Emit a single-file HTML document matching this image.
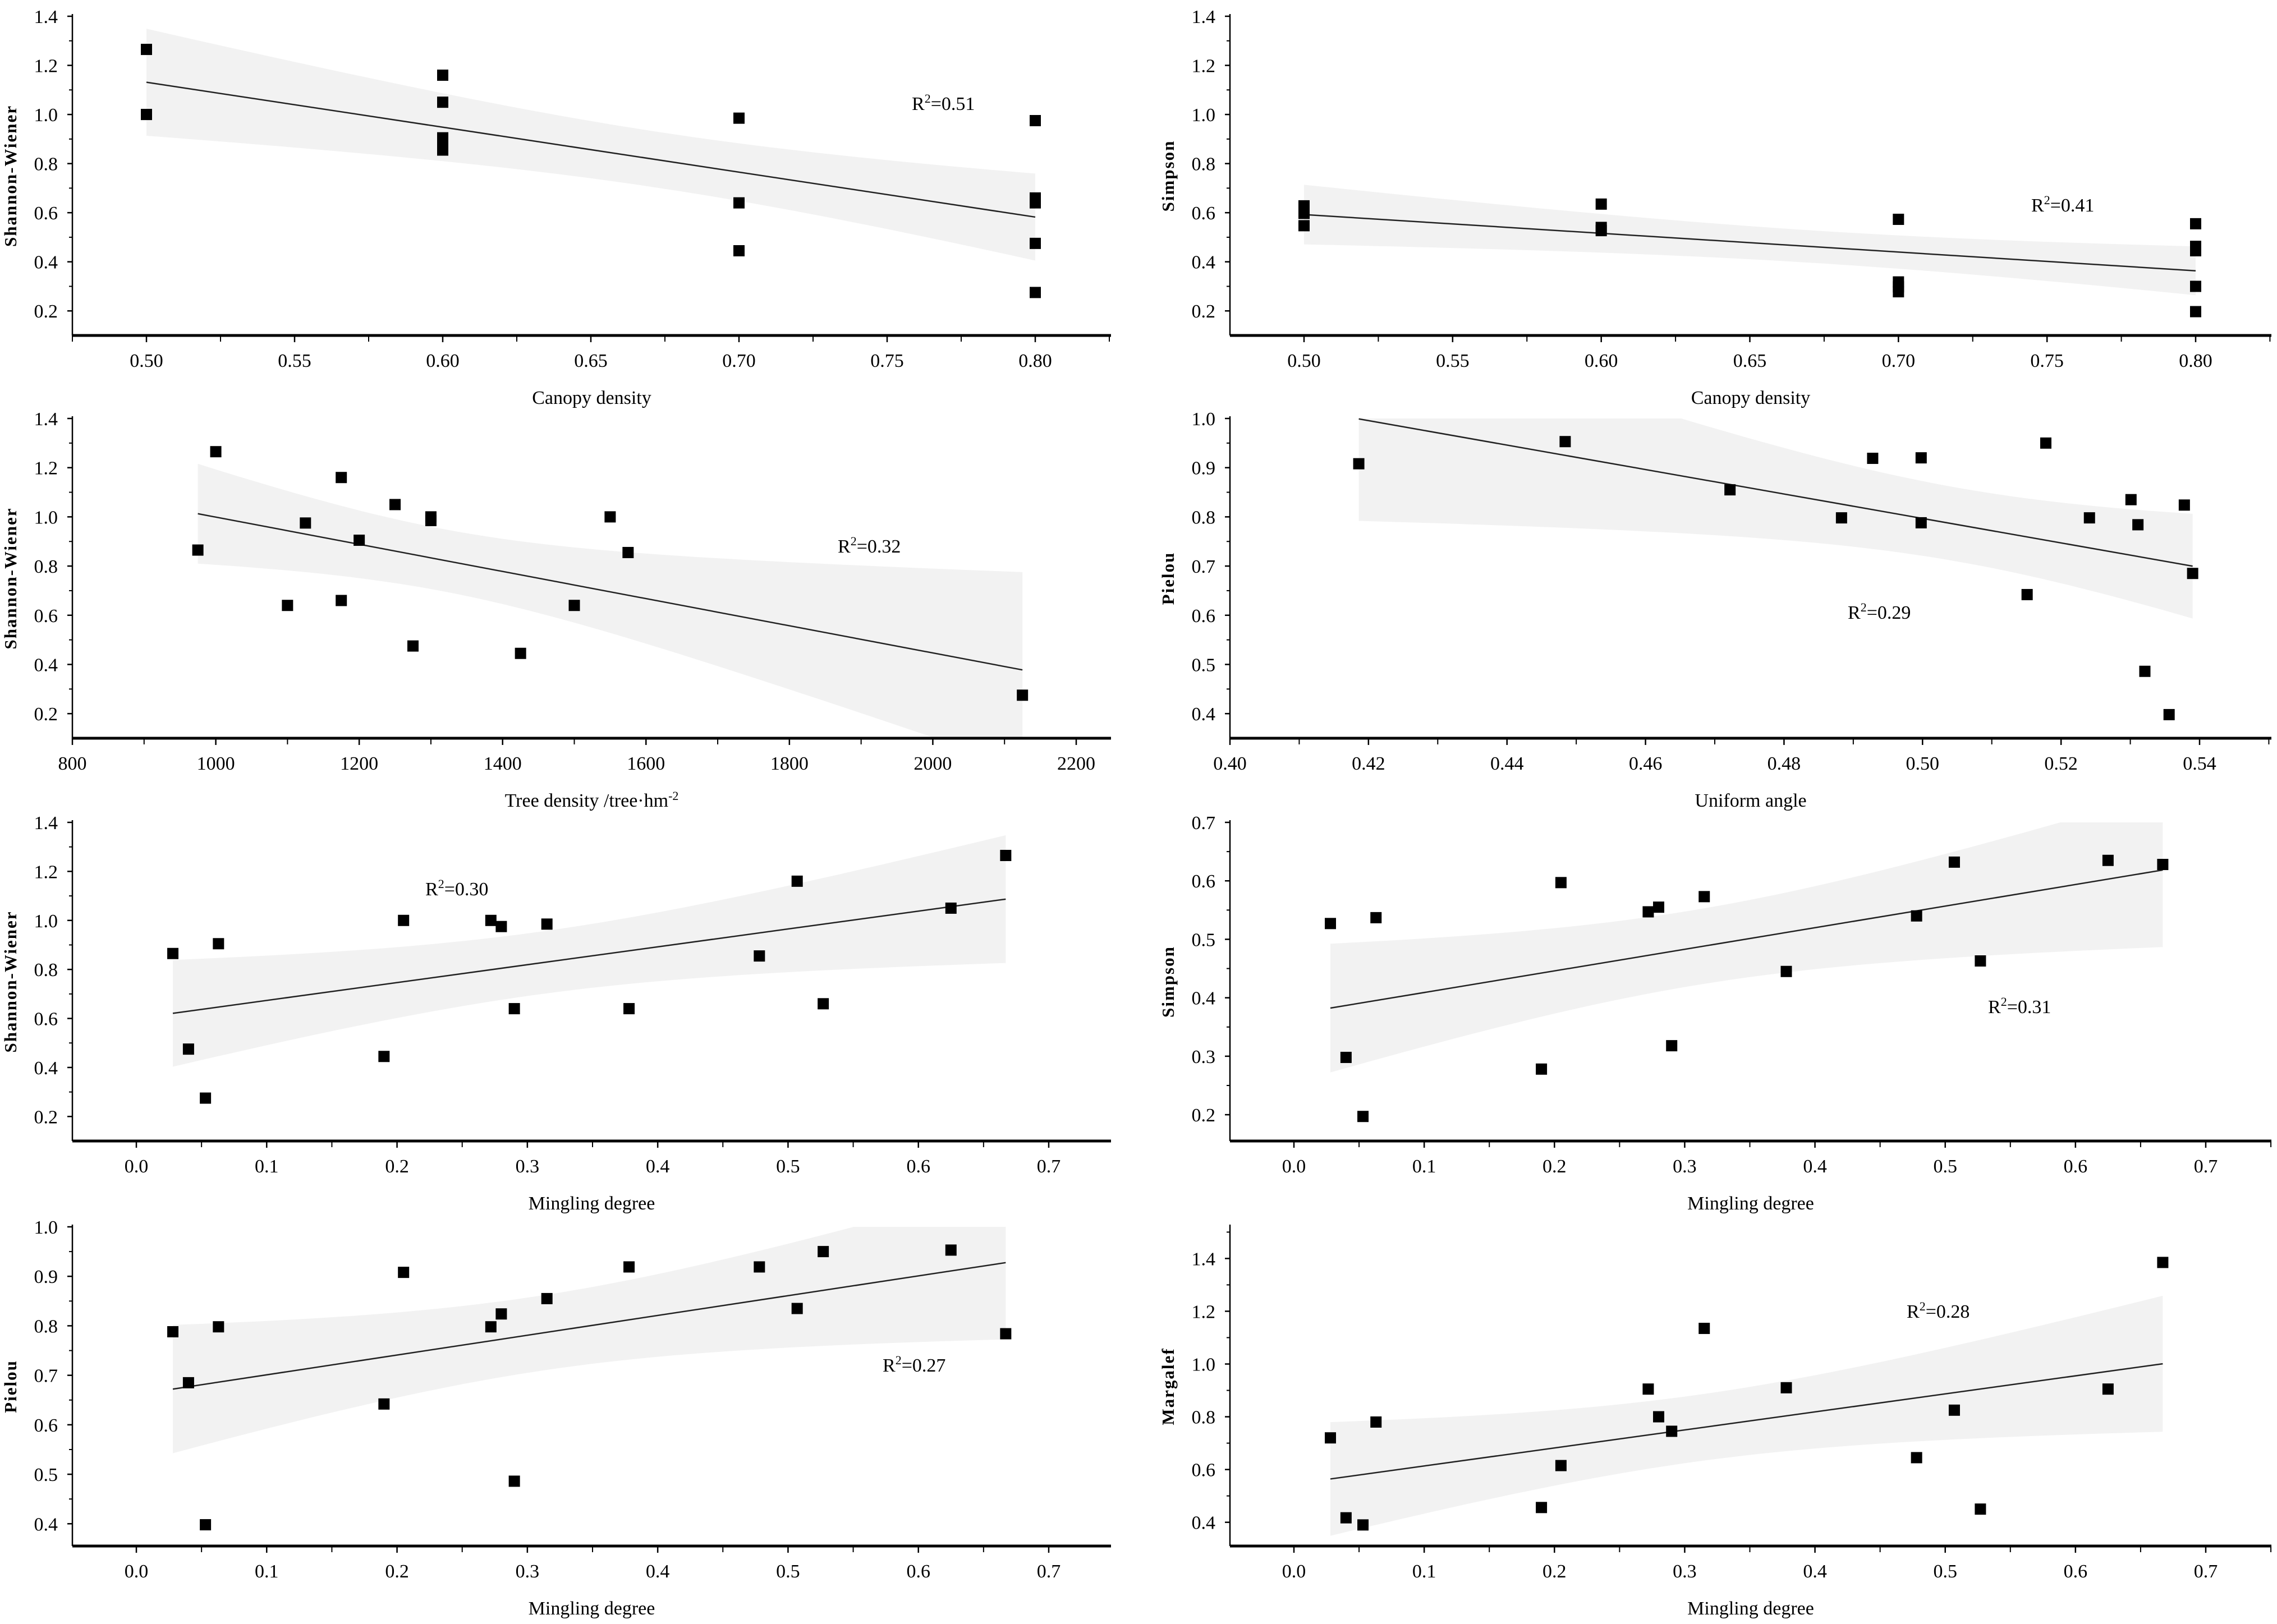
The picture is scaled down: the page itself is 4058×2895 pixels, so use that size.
<!DOCTYPE html>
<html><head><meta charset="utf-8"><title>Diversity regressions</title>
<style>
html,body{margin:0;padding:0;background:#fff;}
svg{display:block;}
text{font-family:"Liberation Serif",serif;fill:#000;}
</style></head>
<body>
<svg id="chart" xmlns="http://www.w3.org/2000/svg" width="4058" height="2895" viewBox="0 0 4058 2895"></svg>
<script>
// ---------- data ----------
const canopyX = [0.5,0.5,0.6,0.6,0.6,0.6,0.6,0.7,0.7,0.7,0.8,0.8,0.8,0.8,0.8];
const shannonByCanopy = [1.265,1.0,1.16,1.05,0.905,0.88,0.855,0.985,0.64,0.445,0.975,0.66,0.64,0.475,0.275];
const canopyX2 = [0.5,0.5,0.5,0.6,0.6,0.6,0.7,0.7,0.7,0.7,0.8,0.8,0.8,0.8,0.8];
const simpsonByCanopy = [0.628,0.597,0.547,0.635,0.54,0.527,0.573,0.318,0.298,0.278,0.555,0.463,0.445,0.3,0.197];
const treeDensity = [975,1000,1100,1125,1175,1175,1200,1250,1275,1300,1300,1425,1500,1550,1575,2125];
const shannonByDensity = [0.865,1.265,0.64,0.975,1.16,0.66,0.905,1.05,0.475,1.0,0.985,0.445,0.64,1.0,0.855,0.275];
const uniformAngle = [0.4186,0.4484,0.4722,0.4883,0.4928,0.4998,0.4998,0.5151,0.5178,0.5241,0.5301,0.5311,0.5321,0.5356,0.5378,0.539];
const pielouByAngle = [0.908,0.953,0.855,0.798,0.919,0.92,0.788,0.642,0.95,0.798,0.835,0.784,0.486,0.398,0.824,0.685];
const mingling = [0.028,0.04,0.053,0.063,0.19,0.205,0.272,0.28,0.29,0.315,0.378,0.478,0.507,0.527,0.625,0.667];
const shannonByMingling = [0.865,0.475,0.275,0.905,0.445,1.0,1.0,0.975,0.64,0.985,0.64,0.855,1.16,0.66,1.05,1.265];
const simpsonByMingling = [0.527,0.298,0.197,0.537,0.278,0.597,0.547,0.555,0.318,0.573,0.445,0.54,0.632,0.463,0.635,0.628];
const pielouByMingling = [0.788,0.685,0.398,0.798,0.642,0.908,0.798,0.824,0.486,0.855,0.919,0.919,0.835,0.95,0.953,0.784];
const margalefByMingling = [0.72,0.417,0.39,0.78,0.456,0.615,0.905,0.8,0.745,1.135,0.91,0.645,0.825,0.45,0.905,1.385];
const r2Labels = ['0.51','0.41','0.32','0.29','0.30','0.31','0.27','0.28'];
const canopyTicks = ['0.50','0.55','0.60','0.65','0.70','0.75','0.80'];
const densityTicks = ['800','1000','1200','1400','1600','1800','2000','2200'];
const angleTicks = ['0.40','0.42','0.44','0.46','0.48','0.50','0.52','0.54'];
const minglingTicks = ['0.0','0.1','0.2','0.3','0.4','0.5','0.6','0.7'];
const yTicks14 = ['0.2','0.4','0.6','0.8','1.0','1.2','1.4'];
const yTicksPielou = ['0.4','0.5','0.6','0.7','0.8','0.9','1.0'];
const yTicksSimp7 = ['0.2','0.3','0.4','0.5','0.6','0.7'];

// ---------- layout (geometry, not data) ----------
const L = {left:129,right:1980}, R = {left:2192,right:4048};
const rows = [{top:29,axis:598},{top:746,axis:1316},{top:1466,axis:2034},{top:2187,axis:2756}];
const panels = [
 {name:'canopy-shannon',col:L,row:0,xs:canopyX,ys:shannonByCanopy,xr:[0.5,261,0.8,1845],yMin:0.1,yMax:1.4,xT:canopyTicks,xMinor:0.025,yT:yTicks14,yMinor:0.1,xTitle:'Canopy density',yTitle:'Shannon-Wiener',r2:[1625,196]},
 {name:'canopy-simpson',col:R,row:0,xs:canopyX2,ys:simpsonByCanopy,xr:[0.5,2324,0.8,3913],yMin:0.1,yMax:1.4,xT:canopyTicks,xMinor:0.025,yT:yTicks14,yMinor:0.1,xTitle:'Canopy density',yTitle:'Simpson',r2:[3620,377]},
 {name:'density-shannon',col:L,row:1,xs:treeDensity,ys:shannonByDensity,xr:[800,129,2200,1918],yMin:0.1,yMax:1.4,xT:densityTicks,xMinor:100,yT:yTicks14,yMinor:0.1,xTitle:'Tree density /tree·hm',xSup:'-2',yTitle:'Shannon-Wiener',r2:[1493,985]},
 {name:'angle-pielou',col:R,row:1,xs:uniformAngle,ys:pielouByAngle,xr:[0.4,2192,0.54,3920],yMin:0.35,yMax:1.0,xT:angleTicks,xMinor:0.01,yT:yTicksPielou,yMinor:0.05,xTitle:'Uniform angle',yTitle:'Pielou',r2:[3293,1103]},
 {name:'mingling-shannon',col:L,row:2,xs:mingling,ys:shannonByMingling,xr:[0,243,0.7,1869],yMin:0.1,yMax:1.4,xT:minglingTicks,xMinor:0.05,yT:yTicks14,yMinor:0.1,xTitle:'Mingling degree',yTitle:'Shannon-Wiener',r2:[758,1596]},
 {name:'mingling-simpson',col:R,row:2,xs:mingling,ys:simpsonByMingling,xr:[0,2306,0.7,3931],yMin:0.155,yMax:0.7,xT:minglingTicks,xMinor:0.05,yT:yTicksSimp7,yMinor:0.05,xTitle:'Mingling degree',yTitle:'Simpson',r2:[3543,1806]},
 {name:'mingling-pielou',col:L,row:3,xs:mingling,ys:pielouByMingling,xr:[0,243,0.7,1869],yMin:0.355,yMax:1.0,xT:minglingTicks,xMinor:0.05,yT:yTicksPielou,yMinor:0.05,xTitle:'Mingling degree',yTitle:'Pielou',r2:[1573,2445]},
 {name:'mingling-margalef',col:R,row:3,xs:mingling,ys:margalefByMingling,xr:[0,2306,0.7,3931],yMin:0.31,yMax:1.52,xT:minglingTicks,xMinor:0.05,yT:yTicks14,yMinor:0.1,xTitle:'Mingling degree',yTitle:'Margalef',r2:[3398,2349]}
];

const NS='http://www.w3.org/2000/svg';
const svg=document.getElementById('chart');
function mk(tag,attrs,parent){const e=document.createElementNS(NS,tag);for(const k in attrs)e.setAttribute(k,attrs[k]);(parent||svg).appendChild(e);return e;}

panels.forEach((p,pi)=>{
  const row=rows[p.row], col=p.col;
  const g=mk('g',{});
  
  
  const kx=(p.xr[3]-p.xr[1])/(p.xr[2]-p.xr[0]);
  const sx=v=>p.xr[1]+(v-p.xr[0])*kx;
  const ky=(row.top-row.axis)/(p.yMax-p.yMin);
  const sy=v=>row.axis+(v-p.yMin)*ky;
  const xMinV=p.xr[0]+(col.left-p.xr[1])/kx, xMaxV=p.xr[0]+(col.right-p.xr[1])/kx;

  const n=p.xs.length;
  let mx=0,my=0;for(let i=0;i<n;i++){mx+=p.xs[i];my+=p.ys[i];}mx/=n;my/=n;
  let sxx=0,sxy=0;for(let i=0;i<n;i++){sxx+=(p.xs[i]-mx)**2;sxy+=(p.xs[i]-mx)*(p.ys[i]-my);}
  const b=sxy/sxx,a=my-b*mx;
  let sse=0;for(let i=0;i<n;i++){sse+=(p.ys[i]-a-b*p.xs[i])**2;}
  const s=Math.sqrt(sse/(n-2)), t=n<=15?2.16:2.145;
  const x0=Math.min(...p.xs), x1=Math.max(...p.xs);
  const up=[],lo=[];
  for(let k=0;k<=60;k++){const x=x0+(x1-x0)*k/60;const yh=a+b*x;const h=t*s*Math.sqrt(1/n+(x-mx)**2/sxx);
    up.push(sx(x).toFixed(1)+','+sy(yh+h).toFixed(1));lo.unshift(sx(x).toFixed(1)+','+sy(yh-h).toFixed(1));}
  const clip=mk('clipPath',{id:'clip'+pi},g);
  mk('rect',{x:col.left,y:row.top,width:col.right-col.left,height:row.axis-row.top},clip);
  const band=mk('polygon',{points:up.concat(lo).join(' '),fill:'#f2f2f2','clip-path':'url(#clip'+pi+')'},g);
  
  
  const fit=mk('line',{x1:sx(x0),y1:sy(a+b*x0),x2:sx(x1),y2:sy(a+b*x1),stroke:'#222','stroke-width':2.5},g);
  
  

  const ya=mk('line',{x1:col.left,y1:row.top-4,x2:col.left,y2:row.axis,stroke:'#000','stroke-width':2.5},g);
  
  
  const xa=mk('line',{x1:col.left,y1:row.axis,x2:col.right,y2:row.axis,stroke:'#000','stroke-width':5},g);
  
  
  const start=Math.ceil((xMinV-1e-9)/p.xMinor)*p.xMinor;
  for(let v=start;v<=xMaxV+1e-9;v+=p.xMinor){mk('line',{x1:sx(v),y1:row.axis,x2:sx(v),y2:row.axis+11,stroke:'#000','stroke-width':2},g);}
  p.xT.forEach(lb=>{const v=parseFloat(lb);
    mk('line',{x1:sx(v),y1:row.axis,x2:sx(v),y2:row.axis+12,stroke:'#000','stroke-width':2.5},g);
    const tx=mk('text',{x:sx(v),y:row.axis+56,'font-size':34,'text-anchor':'middle'},g);tx.textContent=lb;
    
    });
  const ys0=Math.ceil((p.yMin+1e-9)/p.yMinor)*p.yMinor;
  for(let v=ys0;v<=p.yMax+1e-9;v+=p.yMinor){mk('line',{x1:col.left-6,y1:sy(v),x2:col.left,y2:sy(v),stroke:'#000','stroke-width':2},g);}
  p.yT.forEach(lb=>{const v=parseFloat(lb);
    if(v<p.yMin||v>p.yMax+1e-9) return;
    mk('line',{x1:col.left-9,y1:sy(v),x2:col.left,y2:sy(v),stroke:'#000','stroke-width':2.5},g);
    const tx=mk('text',{x:col.left-26,y:sy(v)+12,'font-size':34,'text-anchor':'end'},g);tx.textContent=lb;
    
    });
  const xt=mk('text',{x:(col.left+col.right)/2,y:row.axis+122,'font-size':34,'text-anchor':'middle'},g);
  xt.textContent=p.xTitle;
  if(p.xSup){const ts=mk('tspan',{dy:-12,'font-size':22},xt);ts.textContent=p.xSup;}
  
  
  const cy=(row.top+row.axis)/2, cx=col.left-100;
  const yt=mk('text',{x:cx,y:cy,'font-size':31,'font-weight':'bold','letter-spacing':2,'text-anchor':'middle',transform:'rotate(-90 '+cx+' '+cy+')'},g);
  yt.textContent=p.yTitle;
  
  
  for(let i=0;i<n;i++){
    const r=mk('rect',{x:sx(p.xs[i])-10,y:sy(p.ys[i])-10,width:20,height:20,fill:'#000'},g);
    
    
  }
  const rt=mk('text',{x:p.r2[0],y:p.r2[1],'font-size':34},g);
  rt.appendChild(document.createTextNode('R'));
  const sup=mk('tspan',{dy:-13,'font-size':22},rt);sup.textContent='2';
  const rest=mk('tspan',{dy:13},rt);rest.textContent='=' + r2Labels[pi];
  
  
});
</script>
</body></html>
